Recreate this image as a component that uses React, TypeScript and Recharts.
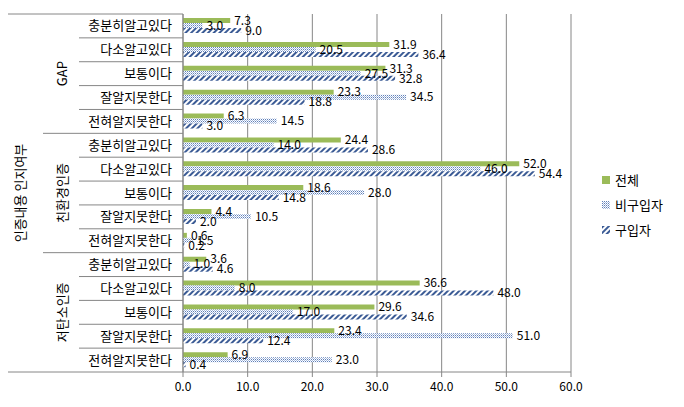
import { BarChart, Bar, XAxis, YAxis, CartesianGrid, LabelList } from "recharts";

const groups = ["GAP", "친환경인증", "저탄소인증"];
const levels = ["충분히알고있다", "다소알고있다", "보통이다", "잘알지못한다", "전혀알지못한다"];
const total = [7.3, 31.9, 31.3, 23.3, 6.3, 24.4, 52.0, 18.6, 4.4, 0.6, 3.6, 36.6, 29.6, 23.4, 6.9];
const nonBuyer = [3.0, 20.5, 27.5, 34.5, 14.5, 14.0, 46.0, 28.0, 10.5, 1.5, 1.0, 8.0, 17.0, 51.0, 23.0];
const buyer = [9.0, 36.4, 32.8, 18.8, 3.0, 28.6, 54.4, 14.8, 2.0, 0.2, 4.6, 48.0, 34.6, 12.4, 0.4];
const xTicks = [0, 10, 20, 30, 40, 50, 60];

const data = total.map((v, i) => ({
  id: `c${i}`,
  group: groups[Math.floor(i / levels.length)],
  level: levels[i % levels.length],
  total: v,
  nonBuyer: nonBuyer[i],
  buyer: buyer[i],
}));

const FONT = "'Noto Sans CJK KR', 'Noto Sans', sans-serif";
const GRID = "#868686";
const GREEN = "#9BBB59";
const PLOT_TOP = 13;
const PLOT_BOTTOM = 371;
const BAND = (PLOT_BOTTOM - PLOT_TOP) / data.length;
const AXIS_X = 182;

const fmt = (v: any) => Number(v).toFixed(1);

function CategoryTick(props: any) {
  const { x, y, payload } = props;
  const i = payload.index ?? props.index;
  const d = data[i];
  const top = y - BAND / 2;
  const startX = i === 0 ? 5 : i % 5 === 0 ? 42 : 78;
  return (
    <g>
      <line x1={startX} x2={AXIS_X} y1={top} y2={top} stroke={GRID} />
      {i === data.length - 1 && (
        <line x1={5} x2={AXIS_X} y1={y + BAND / 2} y2={y + BAND / 2} stroke={GRID} />
      )}
      <text x={171} y={y} dy="0.35em" textAnchor="end" fontSize={13} fill="#000" fontFamily={FONT}>
        {d.level}
      </text>
      {i % 5 === 2 && (
        <text
          x={0}
          y={0}
          transform={`translate(${61}, ${y}) rotate(-90)`}
          dy="0.35em"
          textAnchor="middle"
          fontSize={13}
          fill="#000"
          fontFamily={FONT}
        >
          {d.group}
        </text>
      )}
      {i === 7 && (
        <text
          x={0}
          y={0}
          transform={`translate(${19}, ${y}) rotate(-90)`}
          dy="0.35em"
          textAnchor="middle"
          fontSize={13}
          fill="#000"
          fontFamily={FONT}
        >
          인증내용 인지여부
        </text>
      )}
    </g>
  );
}

const legendItems = [
  { label: "전체", fill: GREEN },
  { label: "비구입자", fill: "url(#dots)" },
  { label: "구입자", fill: "url(#hatch)" },
];

export default function App() {
  return (
    <div style={{ margin: -8 }}>
      <div
        style={{
          width: 684,
          height: 407,
          boxSizing: "border-box",
          border: `1px solid ${GRID}`,
          background: "#fff",
          position: "relative",
        }}
      >
        <BarChart
          width={682}
          height={405}
          data={data}
          layout="vertical"
          margin={{ top: PLOT_TOP, right: 112, bottom: 0, left: 0 }}
          barCategoryGap="17%"
          barGap={0}
        >
          <defs>
            <pattern id="dots" width={2} height={2} patternUnits="userSpaceOnUse">
              <rect width={2} height={2} fill="#fff" />
              <rect width={1} height={1} fill="#5F80BA" />
              <rect x={1} y={1} width={1} height={1} fill="#A9BCDD" />
            </pattern>
            <pattern
              id="hatch"
              width={4}
              height={4}
              patternUnits="userSpaceOnUse"
              patternTransform="rotate(45)"
            >
              <rect width={4} height={4} fill="#fff" />
              <rect width={2} height={4} fill="#3B5B95" />
            </pattern>
          </defs>
          <CartesianGrid horizontal={false} stroke={GRID} />
          <XAxis
            type="number"
            domain={[0, 60]}
            ticks={xTicks}
            tickFormatter={fmt}
            height={34}
            axisLine={{ stroke: GRID }}
            tickLine={{ stroke: GRID }}
            tickSize={5}
            tickMargin={5}
            tick={{ fontSize: 12, fill: "#000", fontFamily: FONT }}
          />
          <YAxis
            type="category"
            dataKey="id"
            width={AXIS_X}
            axisLine={{ stroke: GRID }}
            tickLine={false}
            interval={0}
            tick={<CategoryTick />}
          />
          <Bar dataKey="total" name="전체" fill={GREEN} isAnimationActive={false}>
            <LabelList dataKey="total" position="right" offset={4} formatter={fmt} fontSize={12} fill="#000" fontFamily={FONT} />
          </Bar>
          <Bar dataKey="nonBuyer" name="비구입자" fill="url(#dots)" isAnimationActive={false}>
            <LabelList dataKey="nonBuyer" position="right" offset={4} formatter={fmt} fontSize={12} fill="#000" fontFamily={FONT} />
          </Bar>
          <Bar dataKey="buyer" name="구입자" fill="url(#hatch)" isAnimationActive={false}>
            <LabelList dataKey="buyer" position="right" offset={4} formatter={fmt} fontSize={12} fill="#000" fontFamily={FONT} />
          </Bar>
        </BarChart>
        <div
          style={{
            position: "absolute",
            left: 601,
            top: 166,
            fontFamily: FONT,
            fontSize: 13,
            color: "#000",
          }}
        >
          {legendItems.map((it) => (
            <div key={it.label} style={{ display: "flex", alignItems: "center", height: 25 }}>
              <svg width={8} height={8} style={{ marginRight: 5 }}>
                <rect width={8} height={8} fill={it.fill} />
              </svg>
              <span>{it.label}</span>
            </div>
          ))}
        </div>
      </div>
    </div>
  );
}
